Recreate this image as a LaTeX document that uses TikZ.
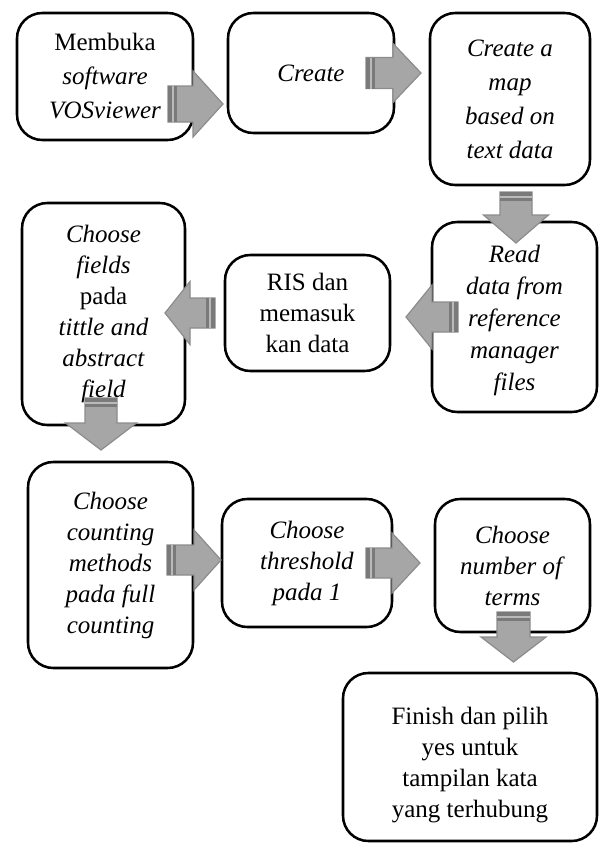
\documentclass[tikz,border=0pt]{standalone}
\usepackage{fontspec}
\setmainfont{Liberation Serif}[ItalicFont={Liberation Serif Italic}]
\definecolor{afill}{HTML}{A6A6A6}
\definecolor{aline}{HTML}{8C8C8C}
\definecolor{astripe}{HTML}{7A7A7A}
\newcommand\blockarrow[7]{%
\begin{scope}[shift={(#1,#2)}, rotate=#3]
\draw[fill=afill, draw=aline, line width=0.9pt, line join=miter] (0,-#5) -- ({#4-#7},-#5) -- ({#4-#7},-#6) -- (#4,0) -- ({#4-#7},#6) -- ({#4-#7},#5) -- (0,#5) -- cycle;
\fill[astripe] (0,-#5) rectangle (9,#5);
\draw[aline!60, line width=0.8pt] (5,-#5) -- (5,#5);
\end{scope}}
\begin{document}
\begin{tikzpicture}[x=0.75pt,y=-0.75pt,
  box/.style={draw=black, line width=1.9pt, rounded corners=19pt, fill=white, inner sep=0pt, align=center,
    font=\fontsize{18.75}{23.25}\selectfont},
  wide/.style={font=\fontsize{18.75}{25.5}\selectfont},
  mid/.style={font=\fontsize{18.75}{24}\selectfont},
  txt/.style={inner sep=0pt, align=center, font=\fontsize{18.75}{23.25}\selectfont}]
\useasboundingbox (0,0) rectangle (600,843);
\fill[white] (0,0) rectangle (600,843);
% boxes
\node[box, wide, minimum width=132pt, minimum height=95.25pt] (b1) at (105,76.5) {Membuka\\\textit{software}\\\textit{VOSviewer}};
\node[box, minimum width=124.5pt, minimum height=90pt] (b2) at (311,73) {\textit{Create}};
\node[box, wide, minimum width=120pt, minimum height=129pt] (b3) at (510,99) {\textit{Create a}\\\textit{map}\\\textit{based on}\\\textit{text data}};
\node[box, mid, minimum width=123.75pt, minimum height=142.5pt] (b4) at (514.5,317) {};
\node[txt, mid] (b4t) at (514.5,320) {\textit{Read}\\\textit{data from}\\\textit{reference}\\\textit{manager}\\\textit{files}};
\node[box, minimum width=123.75pt, minimum height=87pt] (b5) at (307.5,313) {RIS dan\\memasuk\\kan data};
\node[box, minimum width=122.25pt, minimum height=166.5pt] (b6) at (103.5,314) {\textit{Choose}\\\textit{fields}\\pada\\\textit{tittle and}\\\textit{abstract}\\\textit{field}};
\node[box, minimum width=123.75pt, minimum height=154.5pt] (b7) at (110.5,565) {\textit{Choose}\\\textit{counting}\\\textit{methods}\\\textit{pada full}\\\textit{counting}};
\node[box, minimum width=127.5pt, minimum height=96pt] (b8) at (307,563) {\textit{Choose}\\\textit{threshold}\\\textit{pada 1}};
\node[box, minimum width=116.25pt, minimum height=99.75pt] (b9) at (512.5,565.5) {\textit{Choose}\\\textit{number of}\\\textit{terms}};
\node[box, minimum width=190.5pt, minimum height=126pt] (b10) at (470,757) {};
\node[txt] (b10t) at (470,765) {Finish dan pilih\\yes untuk\\tampilan kata\\yang terhubung};
% block arrows
\blockarrow{168}{104}{0}{55}{18}{33}{30}
\blockarrow{366}{73}{0}{55}{15.5}{29.5}{28}
\blockarrow{516}{192}{-90}{51}{16}{32.5}{28}
\blockarrow{458}{317}{180}{52}{15}{32}{26}
\blockarrow{215}{313}{180}{50}{15}{31.5}{25}
\blockarrow{101}{398}{-90}{52}{16}{35.5}{27}
\blockarrow{167}{560}{0}{54}{15}{30}{27}
\blockarrow{366}{563}{0}{54}{15}{30}{28}
\blockarrow{513.5}{612}{-90}{50}{16.5}{32.5}{25}
\end{tikzpicture}
\end{document}
